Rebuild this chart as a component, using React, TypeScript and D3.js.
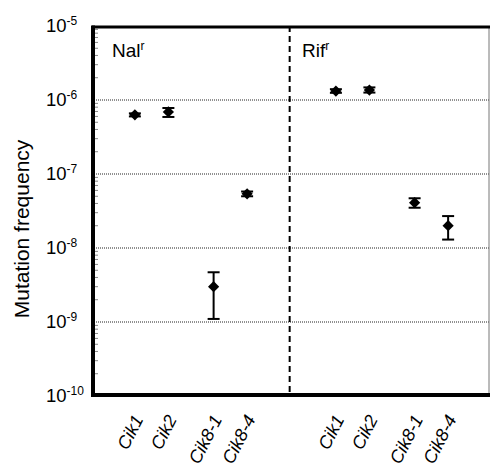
import React, { useEffect, useRef } from "react";
import * as d3 from "d3";

// strain labels, two panels (Nal r / Rif r)
const strains = ["Cik1", "Cik2", "Cik8-1", "Cik8-4"];
const panels = ["Nal", "Rif"];
// x slot of each strain inside the chart (gaps between groups)
const slots = [1, 2, 3.35, 4.35, 7, 8, 9.35, 10.35];
// mutation frequency: mean, low, high
const nalMean = [6.3e-7, 6.9e-7, 3.0e-9, 5.4e-8];
const nalLow = [6.0e-7, 5.9e-7, 1.1e-9, 5.0e-8];
const nalHigh = [6.6e-7, 7.8e-7, 4.7e-9, 5.8e-8];
const rifMean = [1.32e-6, 1.36e-6, 4.1e-8, 2.0e-8];
const rifLow = [1.25e-6, 1.26e-6, 3.5e-8, 1.3e-8];
const rifHigh = [1.4e-6, 1.48e-6, 4.7e-8, 2.7e-8];
const decades = [-5, -6, -7, -8, -9, -10];

export default function App() {
  const ref = useRef<SVGSVGElement>(null);

  useEffect(() => {
    const svg = d3.select(ref.current);
    svg.selectAll("*").remove();

    const left = 92, right = 489, top = 26, bottom = 396;
    const x = d3.scaleLinear().domain([-0.28, 11.57]).range([left, right]);
    const y = d3.scaleLog().domain([1e-10, 1e-5]).range([bottom, top]);

    const data = [
      ...strains.map((s, i) => ({ s, p: 0, m: nalMean[i], lo: nalLow[i], hi: nalHigh[i], slot: slots[i] })),
      ...strains.map((s, i) => ({ s, p: 1, m: rifMean[i], lo: rifLow[i], hi: rifHigh[i], slot: slots[i + 4] })),
    ];

    const g = svg.append("g");

    // dotted decade grid lines
    g.selectAll(".grid")
      .data(decades.slice(1, 5))
      .join("line")
      .attr("x1", left)
      .attr("x2", right)
      .attr("y1", (d) => y(Math.pow(10, d)))
      .attr("y2", (d) => y(Math.pow(10, d)))
      .attr("stroke", "#222")
      .attr("stroke-width", 1)
      .attr("stroke-dasharray", "1,1");

    // minor ticks inside left axis
    const minors: number[] = [];
    for (let e = -10; e < -5; e++) for (let k = 2; k <= 9; k++) minors.push(k * Math.pow(10, e));
    g.selectAll(".minor")
      .data(minors)
      .join("line")
      .attr("x1", left)
      .attr("x2", left + 6)
      .attr("y1", (d) => y(d))
      .attr("y2", (d) => y(d))
      .attr("stroke", "#888")
      .attr("stroke-width", 1);

    // panel divider
    g.append("line")
      .attr("x1", x(5.62))
      .attr("x2", x(5.62))
      .attr("y1", top)
      .attr("y2", bottom)
      .attr("stroke", "#000")
      .attr("stroke-width", 2)
      .attr("stroke-dasharray", "6,4");

    // frame
    g.append("line").attr("x1", right).attr("x2", right).attr("y1", top).attr("y2", bottom)
      .attr("stroke", "#777").attr("stroke-width", 1);
    g.append("line").attr("x1", left).attr("x2", right + 1).attr("y1", top + 1).attr("y2", top + 1)
      .attr("stroke", "#000").attr("stroke-width", 3);
    g.append("line").attr("x1", left).attr("x2", right + 1).attr("y1", bottom - 1).attr("y2", bottom - 1)
      .attr("stroke", "#000").attr("stroke-width", 4);
    g.append("line").attr("x1", left + 1).attr("x2", left + 1).attr("y1", top - 0.5).attr("y2", bottom + 1)
      .attr("stroke", "#000").attr("stroke-width", 4);

    // y tick labels 10^n
    const lab = g.selectAll(".ylab")
      .data(decades)
      .join("text")
      .attr("x", 46)
      .attr("y", (d) => y(Math.pow(10, d)) + 6)
      .attr("font-family", "Liberation Sans, Arial, sans-serif")
      .attr("font-size", 18.5)
      .attr("fill", "#000");
    lab.append("tspan").text("10");
    lab.append("tspan").attr("font-size", 12).attr("dy", -7).text((d) => "-" + Math.abs(d));

    // axis title
    g.append("text")
      .attr("transform", `translate(29, 229) rotate(-90)`)
      .attr("text-anchor", "middle")
      .attr("font-family", "Liberation Sans, Arial, sans-serif")
      .attr("font-size", 21)
      .text("Mutation frequency");

    // panel titles
    const pt = g.selectAll(".ptitle")
      .data(panels)
      .join("text")
      .attr("x", (d, i) => (i === 0 ? 112 : 302))
      .attr("y", 57)
      .attr("font-family", "Liberation Sans, Arial, sans-serif")
      .attr("font-size", 19);
    pt.append("tspan").text((d) => d);
    pt.append("tspan").attr("font-size", 12).attr("dy", -7).text("r");

    // error bars
    const pts = g.selectAll(".pt").data(data).join("g");
    pts.append("line")
      .attr("x1", (d) => x(d.slot)).attr("x2", (d) => x(d.slot))
      .attr("y1", (d) => y(d.lo)).attr("y2", (d) => y(d.hi))
      .attr("stroke", "#000").attr("stroke-width", 2);
    ["lo", "hi"].forEach((k) => {
      pts.append("line")
        .attr("x1", (d) => x(d.slot) - 6).attr("x2", (d) => x(d.slot) + 6)
        .attr("y1", (d: any) => y(d[k])).attr("y2", (d: any) => y(d[k]))
        .attr("stroke", "#000").attr("stroke-width", 2);
    });
    pts.append("path")
      .attr("d", d3.symbol(d3.symbolDiamond2, 80)())
      .attr("transform", (d) => `translate(${x(d.slot)}, ${y(d.m)})`)
      .attr("fill", "#000");

    // x labels
    g.selectAll(".xlab")
      .data(data)
      .join("text")
      .attr("transform", (d) => `translate(${x(d.slot) + 9}, 419) rotate(-63)`)
      .attr("text-anchor", "end")
      .attr("font-family", "Liberation Sans, Arial, sans-serif")
      .attr("font-style", "italic")
      .attr("font-size", 18)
      .text((d) => d.s);
  }, []);

  return (
    <svg ref={ref} width={490} height={472} style={{ position: "absolute", left: 0, top: 0, background: "#fff" }} />
  );
}
